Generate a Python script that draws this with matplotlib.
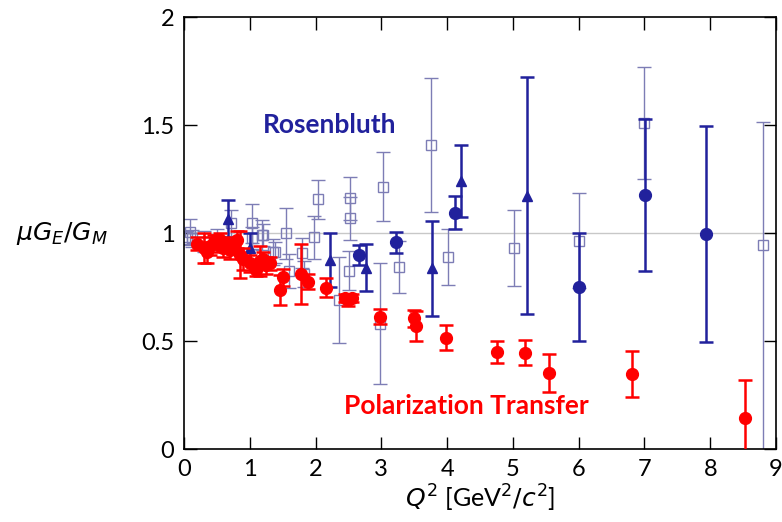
import numpy as np
from matplotlib import pyplot as plt

plt.rcParams['font.family'] = ['Liberation Sans Narrow', 'Lato', 'DejaVu Sans']
plt.rcParams['mathtext.fontset'] = 'dejavusans'

# Polarization transfer (red)
pt_q2 = [0.20, 0.30, 0.35, 0.40, 0.45, 0.50, 0.55, 0.60, 0.65, 0.70, 0.75, 0.80,
         0.85, 0.90, 1.00, 1.10, 1.16, 1.20, 1.25, 1.30, 1.46, 1.51, 1.78, 1.88,
         2.16, 2.45, 2.50, 2.55, 2.98, 3.49, 3.53, 3.98, 4.76, 5.18, 5.55, 6.81, 8.53]
pt_r = [0.95, 0.93, 0.91, 0.94, 0.96, 0.95, 0.97, 0.93, 0.95, 0.92, 0.94, 0.97,
        0.90, 0.88, 0.86, 0.83, 0.87, 0.88, 0.85, 0.86, 0.735, 0.795, 0.81, 0.775,
        0.747, 0.70, 0.69, 0.70, 0.612, 0.605, 0.57, 0.515, 0.448, 0.446, 0.353, 0.346, 0.142]
pt_err = [0.03, 0.07, 0.05, 0.04, 0.03, 0.04, 0.03, 0.04, 0.03, 0.04, 0.03, 0.04,
          0.11, 0.05, 0.04, 0.03, 0.07, 0.03, 0.04, 0.03, 0.07, 0.04, 0.14, 0.035,
          0.043, 0.02, 0.03, 0.02, 0.035, 0.04, 0.07, 0.057, 0.052, 0.058, 0.088, 0.106, 0.177]

# Rosenbluth, filled circles
rc_q2 = [2.66, 3.22, 4.12, 6.00, 7.01, 7.93]
rc_r = [0.898, 0.957, 1.094, 0.749, 1.176, 0.997]
rc_err = [0.045, 0.05, 0.077, 0.25, 0.35, 0.50]

# Rosenbluth, triangles
rt_q2 = [0.67, 1.00, 2.22, 2.77, 3.77, 4.21, 5.21]
rt_r = [1.063, 0.93, 0.875, 0.84, 0.837, 1.241, 1.173]
rt_err = [0.09, 0.07, 0.125, 0.11, 0.22, 0.165, 0.55]

# Rosenbluth world data, open squares (lower / upper errors)
rs_q2 = [0.05, 0.09, 0.12, 0.30, 0.50, 0.71, 1.03, 1.04, 1.19, 1.20, 1.36, 1.38,
         1.55, 1.59, 1.79, 1.82, 1.97, 2.04, 2.36, 2.51, 2.52, 2.52, 2.98, 3.03,
         3.27, 3.75, 4.02, 5.01, 6.00, 7.00, 8.81]
rs_r = [0.98, 1.006, 0.975, 0.96, 0.97, 1.045, 1.045, 0.978, 0.99, 0.99, 0.913, 0.91,
        0.998, 0.825, 0.909, 0.81, 0.98, 1.156, 0.69, 0.825, 1.16, 1.068, 0.58, 1.214,
        0.844, 1.407, 0.89, 0.929, 0.964, 1.508, 0.944]
rs_lo = [0.03, 0.06, 0.04, 0.05, 0.05, 0.06, 0.09, 0.05, 0.07, 0.05, 0.06, 0.05,
         0.12, 0.08, 0.07, 0.06, 0.10, 0.09, 0.20, 0.09, 0.10, 0.10, 0.28, 0.16,
         0.12, 0.31, 0.13, 0.176, 0.22, 0.26, 1.00]
rs_hi = [0.03, 0.06, 0.04, 0.05, 0.05, 0.06, 0.09, 0.05, 0.07, 0.05, 0.06, 0.05,
         0.12, 0.08, 0.07, 0.06, 0.10, 0.09, 0.20, 0.09, 0.10, 0.10, 0.28, 0.16,
         0.12, 0.31, 0.13, 0.176, 0.22, 0.26, 0.57]

red = '#ff0000'
dblue = '#21219c'
lblue = '#7d7db5'

fig = plt.figure(figsize=(7.82, 5.22), dpi=100)
ax = fig.add_axes([0.2353, 0.1398, 0.7570, 0.8276])

ax.axhline(1.0, color='#c8c8c8', lw=1.0, zorder=0)

ax.errorbar(rs_q2, rs_r, yerr=[rs_lo, rs_hi], fmt='s', ms=6.5, mfc='none', mec=lblue, mew=1.0,
            ecolor=lblue, elinewidth=1.0, capsize=5, capthick=1.0, zorder=2)
ax.errorbar(rc_q2, rc_r, yerr=rc_err, fmt='o', ms=8.5, color=dblue,
            elinewidth=1.8, capsize=5, capthick=1.8, zorder=3)
ax.errorbar(rt_q2, rt_r, yerr=rt_err, fmt='^', ms=7, color=dblue,
            elinewidth=1.8, capsize=5, capthick=1.8, zorder=3)
ax.errorbar(pt_q2, pt_r, yerr=pt_err, fmt='o', ms=8.5, color=red,
            elinewidth=1.8, capsize=5, capthick=1.8, zorder=4)

ax.text(2.22, 1.5, 'Rosenbluth', color=dblue, fontsize=19, fontweight='bold',
        ha='center', va='center')
ax.text(4.29, 0.2, 'Polarization Transfer', color=red, fontsize=19, fontweight='bold',
        ha='center', va='center')

ax.set_xlim(0, 9)
ax.set_ylim(0, 2)
ax.set_xticks(range(10))
ax.set_yticks([0, 0.5, 1, 1.5, 2])
ax.set_yticklabels(['0', '0.5', '1', '1.5', '2'])
ax.tick_params(direction='in', length=9, width=1.0, labelsize=17, pad=7,
               top=True, right=True)
for s in ax.spines.values():
    s.set_linewidth(1.2)

ax.set_xlabel(r'$Q^2$ [GeV$^2/c^2$]', fontsize=18, labelpad=2)
ax.set_ylabel(r'$\mu G_E/G_M$', fontsize=18, rotation=0, ha='center', va='center')
ax.yaxis.set_label_coords(-0.207, 0.5)

plt.savefig('out.png', dpi=100)
